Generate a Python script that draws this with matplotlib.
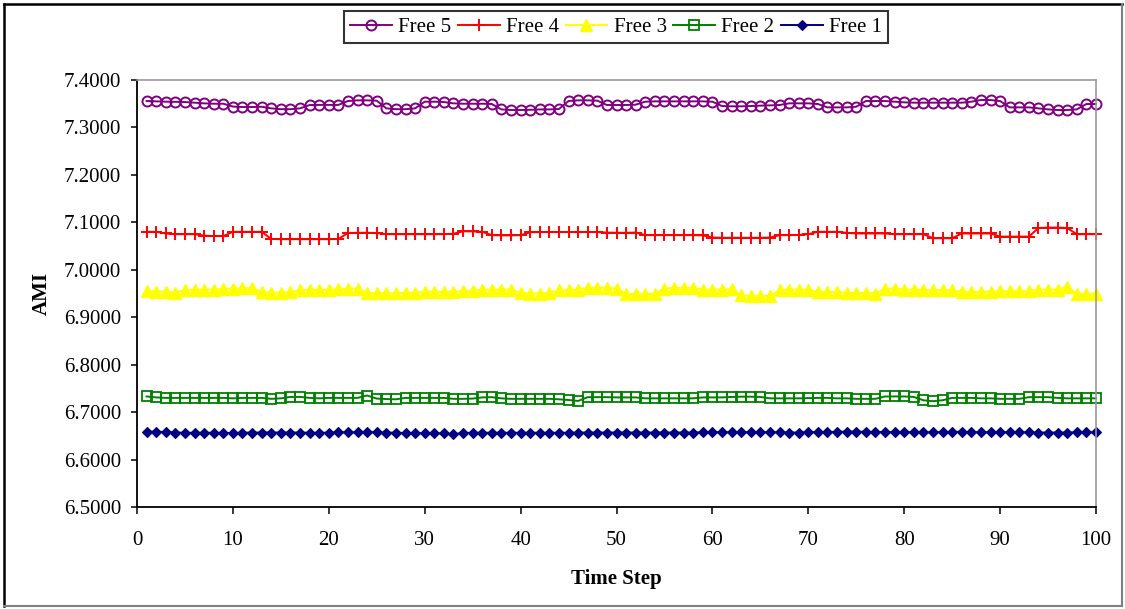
import matplotlib
matplotlib.use("Agg")
import matplotlib.pyplot as plt
from matplotlib.lines import Line2D
import numpy as np

plt.rcParams['font.family'] = ['Liberation Serif', 'DejaVu Serif']

time_step = np.arange(1, 101)

free5 = [7.3557, 7.3550, 7.3543, 7.3540, 7.3535, 7.3522, 7.3508, 7.3500, 7.3500, 7.3440,
         7.3430, 7.3430, 7.3437, 7.3402, 7.3385, 7.3385, 7.3402, 7.3473, 7.3475, 7.3475,
         7.3475, 7.3557, 7.3571, 7.3571, 7.3564, 7.3402, 7.3385, 7.3385, 7.3402, 7.3543,
         7.3543, 7.3535, 7.3508, 7.3500, 7.3500, 7.3500, 7.3494, 7.3380, 7.3367, 7.3367,
         7.3372, 7.3380, 7.3380, 7.3388, 7.3557, 7.3571, 7.3571, 7.3564, 7.3473, 7.3473,
         7.3473, 7.3480, 7.3543, 7.3550, 7.3550, 7.3550, 7.3550, 7.3550, 7.3550, 7.3543,
         7.3451, 7.3445, 7.3445, 7.3451, 7.3460, 7.3465, 7.3473, 7.3508, 7.3508, 7.3508,
         7.3494, 7.3423, 7.3423, 7.3423, 7.3437, 7.3557, 7.3557, 7.3557, 7.3543, 7.3529,
         7.3522, 7.3522, 7.3522, 7.3522, 7.3522, 7.3522, 7.3543, 7.3578, 7.3578, 7.3557,
         7.3423, 7.3423, 7.3423, 7.3402, 7.3381, 7.3367, 7.3367, 7.3381, 7.3494, 7.3494]

free4 = [7.0800, 7.0800, 7.0765, 7.0750, 7.0750, 7.0750, 7.0720, 7.0710, 7.0710, 7.0800,
         7.0800, 7.0800, 7.0800, 7.0650, 7.0645, 7.0645, 7.0645, 7.0645, 7.0645, 7.0645,
         7.0650, 7.0775, 7.0780, 7.0780, 7.0775, 7.0750, 7.0750, 7.0750, 7.0750, 7.0750,
         7.0750, 7.0750, 7.0760, 7.0810, 7.0810, 7.0800, 7.0730, 7.0725, 7.0725, 7.0730,
         7.0790, 7.0795, 7.0795, 7.0795, 7.0795, 7.0795, 7.0795, 7.0795, 7.0785, 7.0780,
         7.0780, 7.0785, 7.0730, 7.0730, 7.0730, 7.0730, 7.0730, 7.0730, 7.0725, 7.0680,
         7.0675, 7.0675, 7.0675, 7.0675, 7.0675, 7.0680, 7.0730, 7.0730, 7.0735, 7.0750,
         7.0800, 7.0800, 7.0800, 7.0780, 7.0765, 7.0765, 7.0765, 7.0765, 7.0750, 7.0750,
         7.0750, 7.0750, 7.0665, 7.0665, 7.0665, 7.0765, 7.0765, 7.0765, 7.0765, 7.0700,
         7.0700, 7.0700, 7.0700, 7.0880, 7.0890, 7.0890, 7.0880, 7.0750, 7.0750, 7.0750]

free3 = [6.9556, 6.9540, 6.9540, 6.9520, 6.9570, 6.9584, 6.9584, 6.9584, 6.9600, 6.9605,
         6.9610, 6.9615, 6.9534, 6.9520, 6.9520, 6.9534, 6.9570, 6.9575, 6.9575, 6.9580,
         6.9590, 6.9600, 6.9605, 6.9513, 6.9513, 6.9505, 6.9505, 6.9520, 6.9520, 6.9534,
         6.9534, 6.9534, 6.9534, 6.9556, 6.9556, 6.9584, 6.9584, 6.9584, 6.9584, 6.9513,
         6.9500, 6.9500, 6.9513, 6.9570, 6.9570, 6.9584, 6.9619, 6.9619, 6.9619, 6.9605,
         6.9490, 6.9490, 6.9490, 6.9490, 6.9605, 6.9619, 6.9619, 6.9619, 6.9584, 6.9584,
         6.9584, 6.9590, 6.9464, 6.9450, 6.9450, 6.9450, 6.9570, 6.9584, 6.9584, 6.9584,
         6.9534, 6.9534, 6.9534, 6.9513, 6.9513, 6.9513, 6.9500, 6.9605, 6.9605, 6.9584,
         6.9584, 6.9570, 6.9570, 6.9570, 6.9570, 6.9534, 6.9534, 6.9534, 6.9534, 6.9550,
         6.9550, 6.9550, 6.9550, 6.9584, 6.9584, 6.9584, 6.9640, 6.9490, 6.9490, 6.9500]

free2 = [6.7330, 6.7310, 6.7300, 6.7300, 6.7300, 6.7300, 6.7300, 6.7300, 6.7300, 6.7290,
         6.7300, 6.7300, 6.7300, 6.7280, 6.7290, 6.7320, 6.7320, 6.7300, 6.7290, 6.7300,
         6.7300, 6.7300, 6.7300, 6.7350, 6.7285, 6.7275, 6.7270, 6.7300, 6.7300, 6.7300,
         6.7300, 6.7300, 6.7280, 6.7280, 6.7285, 6.7310, 6.7315, 6.7290, 6.7280, 6.7280,
         6.7280, 6.7280, 6.7280, 6.7270, 6.7255, 6.7235, 6.7315, 6.7315, 6.7315, 6.7310,
         6.7310, 6.7310, 6.7290, 6.7290, 6.7290, 6.7290, 6.7290, 6.7290, 6.7310, 6.7310,
         6.7310, 6.7320, 6.7325, 6.7325, 6.7320, 6.7290, 6.7290, 6.7290, 6.7290, 6.7295,
         6.7300, 6.7300, 6.7290, 6.7290, 6.7280, 6.7280, 6.7280, 6.7330, 6.7330, 6.7330,
         6.7320, 6.7250, 6.7230, 6.7250, 6.7300, 6.7300, 6.7300, 6.7290, 6.7290, 6.7280,
         6.7280, 6.7280, 6.7315, 6.7315, 6.7315, 6.7300, 6.7290, 6.7290, 6.7290, 6.7290]

free1 = [6.6590, 6.6585, 6.6580, 6.6570, 6.6565, 6.6565, 6.6565, 6.6565, 6.6560, 6.6560,
         6.6565, 6.6570, 6.6570, 6.6570, 6.6570, 6.6570, 6.6570, 6.6565, 6.6560, 6.6570,
         6.6575, 6.6575, 6.6575, 6.6580, 6.6575, 6.6570, 6.6565, 6.6560, 6.6555, 6.6555,
         6.6555, 6.6550, 6.6535, 6.6560, 6.6565, 6.6565, 6.6565, 6.6565, 6.6565, 6.6565,
         6.6565, 6.6565, 6.6565, 6.6565, 6.6565, 6.6570, 6.6570, 6.6570, 6.6570, 6.6570,
         6.6570, 6.6570, 6.6570, 6.6570, 6.6570, 6.6570, 6.6570, 6.6570, 6.6575, 6.6575,
         6.6575, 6.6575, 6.6575, 6.6575, 6.6575, 6.6575, 6.6575, 6.6570, 6.6570, 6.6575,
         6.6580, 6.6580, 6.6585, 6.6590, 6.6590, 6.6585, 6.6580, 6.6580, 6.6575, 6.6575,
         6.6575, 6.6575, 6.6575, 6.6580, 6.6585, 6.6585, 6.6580, 6.6575, 6.6575, 6.6575,
         6.6575, 6.6575, 6.6575, 6.6570, 6.6570, 6.6570, 6.6570, 6.6575, 6.6575, 6.6575]

series_labels = ["Free 5", "Free 4", "Free 3", "Free 2", "Free 1"]
x_ticks = [0, 10, 20, 30, 40, 50, 60, 70, 80, 90, 100]
y_ticks = [6.5, 6.6, 6.7, 6.8, 6.9, 7.0, 7.1, 7.2, 7.3, 7.4]

fig = plt.figure(figsize=(11.25, 6.09), dpi=100)
ax = fig.add_axes([137/1125, 1 - 507/609, (1096 - 137)/1125, (507 - 80)/609])

styles = [
    dict(color="#800080", marker="o", ms=7.2, mfc="none", mec="#800080", mew=1.4),
    dict(color="#FF0000", marker="+", ms=8.5, mec="#FF0000", mew=1.4),
    dict(color="#FFFF00", marker="^", ms=8.0, mfc="#FFFF00", mec="#FFFF00", mew=1.0),
    dict(color="#008000", marker="s", ms=6.6, mfc="none", mec="#008000", mew=1.3),
    dict(color="#000080", marker="D", ms=5.6, mfc="#000080", mec="#000080", mew=0.8),
]
data = [free5, free4, free3, free2, free1]

handles = []
for vals, lab, st in zip(data, series_labels, styles):
    h, = ax.plot(time_step, vals, lw=1.4, label=lab, clip_on=False, **st)
    handles.append(h)

ax.set_xlim(0, 100)
ax.set_ylim(6.5, 7.4)
ax.set_xticks(x_ticks)
ax.set_yticks(y_ticks)
ax.set_yticklabels([f"{v:.4f}" for v in y_ticks])
ax.tick_params(axis="x", direction="out", length=5, width=1.1, pad=12, labelsize=15)
ax.tick_params(axis="y", direction="out", length=4.5, width=1.1, pad=7, labelsize=15)

for side in ("left", "bottom"):
    ax.spines[side].set_color("black")
    ax.spines[side].set_linewidth(1.3)
for side in ("top", "right"):
    ax.spines[side].set_color("#9a9a9a")
    ax.spines[side].set_linewidth(1.2)

ax.set_xlabel("Time Step", fontsize=15, fontweight="bold", labelpad=14)
ax.set_ylabel("AMI", fontsize=15, fontweight="bold", labelpad=8.5)

leg = fig.legend(handles=handles, labels=series_labels, loc="center",
                 bbox_to_anchor=(616/1125, 1 - 27/609), ncol=5, fontsize=15,
                 frameon=True, fancybox=False, handlelength=2.0, handletextpad=0.3,
                 columnspacing=0.32, borderpad=0.32, borderaxespad=0)
leg.get_frame().set_edgecolor("black")
leg.get_frame().set_linewidth(1.5)

# outer chart border
fig.add_artist(Line2D([4/1125, 4/1125], [3/609, 1 - 4/609], transform=fig.transFigure, color="black", lw=1.8))
fig.add_artist(Line2D([4/1125, 1 - 3/1125], [1 - 4/609, 1 - 4/609], transform=fig.transFigure, color="black", lw=1.8))
fig.add_artist(Line2D([4/1125, 1 - 3/1125], [3/609, 3/609], transform=fig.transFigure, color="#808080", lw=1.5))
fig.add_artist(Line2D([1 - 3/1125, 1 - 3/1125], [3/609, 1 - 4/609], transform=fig.transFigure, color="#808080", lw=1.5))

fig.savefig("out.png", dpi=100)
